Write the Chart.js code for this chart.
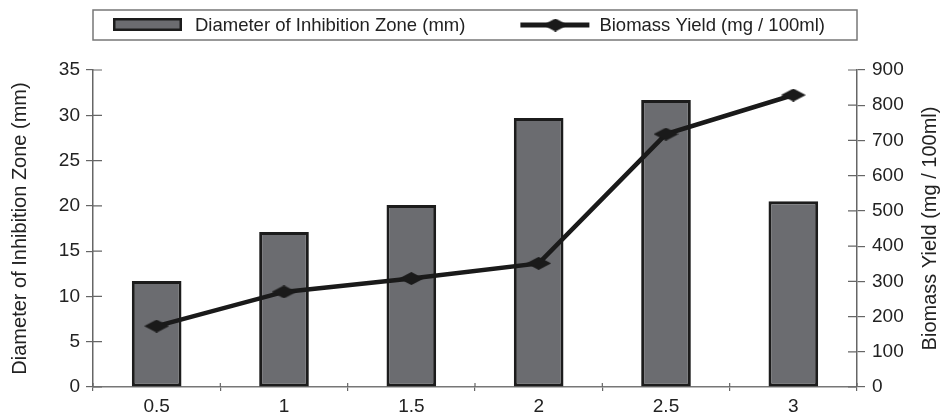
<!DOCTYPE html>
<html>
<head>
<meta charset="utf-8">
<script src="https://cdn.jsdelivr.net/npm/chart.js@4.4.0/dist/chart.umd.min.js"></script>
<style>
html, body { margin: 0; padding: 0; background: #fff; }
#wrap { width: 940px; height: 416px; position: relative; }
</style>
</head>
<body>
<div id="wrap"><canvas id="chart"></canvas></div>
<script>
const categories = ['0.5', '1', '1.5', '2', '2.5', '3'];
const zone_mm = [11.7, 17.1, 20.1, 29.7, 31.7, 20.5];
const biomass = [173, 270, 308, 351, 718, 829];
const zone_ticks = [0, 5, 10, 15, 20, 25, 30, 35];
const biomass_ticks = [0, 100, 200, 300, 400, 500, 600, 700, 800, 900];

const FONT = "'Liberation Sans', Arial, Helvetica, sans-serif";
const BAR_FILL = '#6b6c70';
const BAR_EDGE = '#1c1c1c';
const LINE_COL = '#1a1a1a';
const AXIS_COL = '#666';
const RIGHT_TITLE = 'Biomass Yield (mg / 100ml)';

Chart.defaults.font.family = FONT;
Chart.defaults.color = '#222';

function makeDiamond(w, h, color) {
    const c = document.createElement('canvas');
    c.width = w;
    c.height = h;
    const g = c.getContext('2d');
    g.fillStyle = color;
    g.beginPath();
    g.moveTo(0, h / 2);
    g.lineTo(w / 2, 0);
    g.lineTo(w, h / 2);
    g.lineTo(w / 2, h);
    g.closePath();
    g.fill();
    return c;
}
const diamond = makeDiamond(25, 13, LINE_COL);

// ticks that cross the axis line (the library only draws the outer half)
const crossTicks = {
    id: 'crossTicks',
    afterDraw(chart) {
        const { ctx, chartArea, scales } = chart;
        ctx.save();
        ctx.strokeStyle = AXIS_COL;
        ctx.lineWidth = 1.2;
        ctx.beginPath();
        scales.y.ticks.forEach((t, i) => {
            const y = scales.y.getPixelForTick(i);
            ctx.moveTo(chartArea.left, y);
            ctx.lineTo(chartArea.left + 9, y);
        });
        scales.y1.ticks.forEach((t, i) => {
            const y = scales.y1.getPixelForTick(i);
            ctx.moveTo(chartArea.right - 9, y);
            ctx.lineTo(chartArea.right, y);
        });
        for (let i = 0; i <= categories.length; i++) {
            const x = scales.x.getPixelForValue(i - 0.5);
            ctx.moveTo(x, chartArea.bottom);
            ctx.lineTo(x, chartArea.bottom - 4);
        }
        ctx.stroke();

        // right axis title reads bottom-to-top like the left one
        const y1 = scales.y1;
        ctx.translate(y1.right - 10, (chartArea.top + chartArea.bottom) / 2);
        ctx.rotate(-Math.PI / 2);
        ctx.font = '20px ' + FONT;
        ctx.fillStyle = '#222';
        ctx.textAlign = 'center';
        ctx.textBaseline = 'middle';
        ctx.fillText(RIGHT_TITLE, 0, 0);
        ctx.restore();
    }
};

// boxed legend above the plot
const boxLegend = {
    id: 'boxLegend',
    afterDraw(chart) {
        const { ctx, chartArea } = chart;
        const bars = chart.data.datasets[0];
        const line = chart.data.datasets[1];
        const top = 10, bottom = 40, mid = (top + bottom) / 2;
        ctx.save();
        ctx.strokeStyle = '#777';
        ctx.lineWidth = 1.5;
        ctx.strokeRect(chartArea.left, top, chartArea.right - chartArea.left, bottom - top);

        ctx.font = '18.5px ' + FONT;
        ctx.textBaseline = 'middle';

        let x = chartArea.left + 20;
        ctx.fillStyle = BAR_EDGE;
        ctx.fillRect(x, mid - 7, 69, 13);
        ctx.fillStyle = BAR_FILL;
        ctx.fillRect(x + 2.5, mid - 4.5, 64, 8);
        x += 82;
        ctx.fillStyle = '#222';
        ctx.fillText(bars.label, x, mid + 1);
        x += ctx.measureText(bars.label).width + 55;

        ctx.strokeStyle = LINE_COL;
        ctx.lineWidth = 5;
        ctx.beginPath();
        ctx.moveTo(x, mid);
        ctx.lineTo(x + 69, mid);
        ctx.stroke();
        ctx.drawImage(diamond, x + 35 - 12.5, mid - 6.5);
        x += 79;
        ctx.fillText(line.label, x, mid + 1);
        ctx.restore();
    }
};

const data = {
    labels: categories,
    datasets: [
        {
            type: 'bar',
            label: 'Diameter of Inhibition Zone (mm)',
            data: zone_mm,
            yAxisID: 'y',
            backgroundColor: BAR_FILL,
            borderColor: BAR_EDGE,
            borderWidth: 3,
            borderSkipped: false,
            categoryPercentage: 1,
            barPercentage: 0.39,
            order: 2,
        },
        {
            type: 'line',
            label: RIGHT_TITLE,
            data: biomass,
            yAxisID: 'y1',
            borderColor: LINE_COL,
            borderWidth: 4.5,
            tension: 0,
            pointStyle: diamond,
            pointRadius: 7,
            order: 1,
        }
    ]
};

const options = {
    responsive: true,
    maintainAspectRatio: false,
    animation: false,
    layout: { padding: { top: 70, left: 0, right: 0, bottom: 0 } },
    plugins: {
        legend: { display: false },
        tooltip: { enabled: false },
    },
    scales: {
        x: {
            grid: { offset: true, drawOnChartArea: false, tickLength: 4, color: AXIS_COL, lineWidth: 1.2 },
            border: { color: '#777', width: 1.5 },
            ticks: { font: { size: 19 }, padding: 4, color: '#222' },
            afterFit: (s) => { s.height = 29; },
        },
        y: {
            position: 'left',
            min: zone_ticks[0],
            max: zone_ticks[zone_ticks.length - 1],
            ticks: { stepSize: zone_ticks[1] - zone_ticks[0], font: { size: 19 }, padding: 6, color: '#222' },
            grid: { drawOnChartArea: false, tickLength: 7, color: AXIS_COL, lineWidth: 1.2 },
            border: { color: AXIS_COL, width: 1.5 },
            title: { display: true, text: 'Diameter of Inhibition Zone (mm)', font: { size: 20 }, color: '#222', padding: { top: 8, bottom: 0 } },
            afterFit: (s) => { s.width = 93; },
        },
        y1: {
            position: 'right',
            min: biomass_ticks[0],
            max: biomass_ticks[biomass_ticks.length - 1],
            ticks: { stepSize: biomass_ticks[1] - biomass_ticks[0], font: { size: 19 }, padding: 7, color: '#222' },
            grid: { drawOnChartArea: false, tickLength: 8, color: AXIS_COL, lineWidth: 1.2 },
            border: { color: AXIS_COL, width: 1.5 },
            afterFit: (s) => { s.width = 83; },
        }
    }
};

new Chart(document.getElementById('chart'), {
    type: 'bar',
    data,
    options,
    plugins: [crossTicks, boxLegend]
});
</script>
</body>
</html>
